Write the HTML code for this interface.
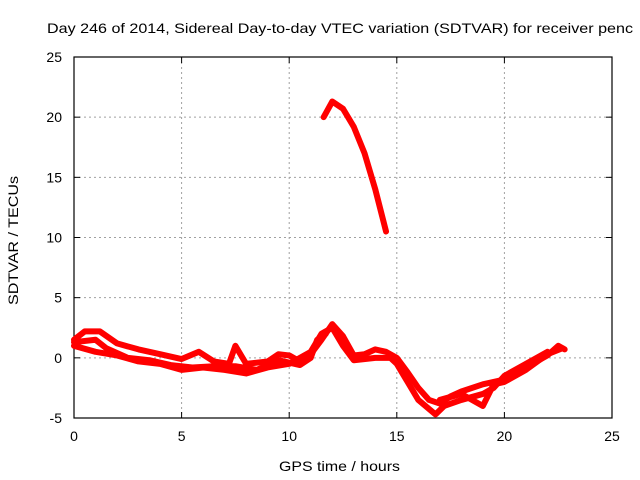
<!DOCTYPE html>
<html><head><meta charset="utf-8"><style>
body{margin:0;background:#fff}
svg{display:block;font-family:"Liberation Sans",sans-serif}
</style></head><body>
<svg id="chart" width="640" height="480" viewBox="0 0 640 480">
<text x="47" y="33" font-size="14" textLength="586" lengthAdjust="spacingAndGlyphs" fill="#000">Day 246 of 2014, Sidereal Day-to-day VTEC variation (SDTVAR) for receiver penc</text>
<g id="grid"></g>
<g id="axes"></g>
<g id="series"></g>
<text x="279" y="471" font-size="14" textLength="121" lengthAdjust="spacingAndGlyphs">GPS time / hours</text>
<text transform="translate(18,305) rotate(-90)" font-size="14" textLength="129" lengthAdjust="spacingAndGlyphs">SDTVAR / TECUs</text>
</svg>
<script>
const xTicks=[0,5,10,15,20,25];
const yTicks=[-5,0,5,10,15,20,25];
const trackA=[[0,1.5],[0.5,2.2],[1.2,2.2],[2,1.2],[3,0.7],[4,0.3],[5,-0.1],[5.8,0.5],[6.5,-0.3],[7.2,-0.5],[7.5,1.0],[8,-0.5],[9,-0.3],[9.5,0.3],[10,0.2],[10.5,-0.3],[11,0.3],[11.5,1.5],[12,2.8],[12.5,1.8],[13,0.2],[13.5,0.3],[14,0.7],[14.5,0.5],[15,0],[15.5,-1.2],[16,-2.5],[16.5,-3.5],[17,-3.8],[17.5,-3.2],[18,-2.8],[19,-2.2],[20,-1.8],[21,-0.8],[22,0.2],[22.5,1],[22.8,0.7]];
const trackB=[[0,1.0],[1,0.5],[2,0.2],[3,-0.3],[4,-0.5],[5,-1.0],[6,-0.8],[7,-1.0],[8,-1.3],[9,-0.8],[10,-0.5],[11,0.5],[11.5,2],[12,2.5],[12.5,1],[13,-0.2],[14,0],[14.7,0],[15,-0.5],[15.5,-2],[16,-3.5],[16.8,-4.7],[17.2,-4],[18,-3.5],[19,-3],[19.5,-2.5],[20,-1.5],[21,-0.5],[22,0.5]];
const trackC=[[0,1.3],[1,1.5],[1.5,0.8],[2.5,0.0],[3.5,-0.2],[4.5,-0.6],[5.5,-0.8],[6.5,-0.7],[7.5,-0.7],[8.5,-1.0],[9.5,-0.2],[10.5,-0.6],[11,0],[11.3,1.5],[11.7,2.0]];
const trackD=[[17,-3.5],[18,-3],[19,-4],[19.5,-2.2],[20,-2],[21,-1],[22,0.3],[22.7,0.8]];
const trackPeak=[[11.6,20],[12,21.3],[12.5,20.7],[13,19.2],[13.5,17],[14,14],[14.5,10.5]];
const X0=74,X1=612,Y0=418,Y1=57;
function sx(v){return X0+(v-0)/25*(X1-X0);}
function sy(v){return Y0-(v+5)/30*(Y0-Y1);}
const NS="http://www.w3.org/2000/svg";
function mk(t,a,p){const e=document.createElementNS(NS,t);for(const k in a)e.setAttribute(k,a[k]);p.appendChild(e);return e;}
const grid=document.getElementById('grid'),axes=document.getElementById('axes'),ser=document.getElementById('series');
xTicks.forEach(t=>{
 if(t>0&&t<25){const l=mk('line',{x1:sx(t),x2:sx(t),y1:Y1,y2:Y0,stroke:'#a0a0a0','stroke-dasharray':'2,3'},grid);
 
 }
 const tx=mk('text',{x:sx(t),y:Y0+23,'font-size':14,'text-anchor':'middle'},axes);tx.textContent=t;
 
 
 mk('line',{x1:sx(t),x2:sx(t),y1:Y0,y2:Y0-6,stroke:'#000'},axes);
 mk('line',{x1:sx(t),x2:sx(t),y1:Y1,y2:Y1+6,stroke:'#000'},axes);
});
yTicks.forEach(t=>{
 if(t>-5&&t<25){const l=mk('line',{x1:X0,x2:X1,y1:sy(t),y2:sy(t),stroke:'#a0a0a0','stroke-dasharray':'2,3'},grid);
 
 }
 const tx=mk('text',{x:X0-12,y:sy(t)+5,'font-size':14,'text-anchor':'end'},axes);tx.textContent=t;
 
 
 mk('line',{x1:X0,x2:X0+6,y1:sy(t),y2:sy(t),stroke:'#000'},axes);
 mk('line',{x1:X1,x2:X1-6,y1:sy(t),y2:sy(t),stroke:'#000'},axes);
});
mk('rect',{x:X0,y:Y1,width:X1-X0,height:Y0-Y1,fill:'none',stroke:'#000','stroke-width':1.2},axes);
[trackA,trackB,trackC,trackD,trackPeak].forEach((tr,i)=>{
 const p=mk('polyline',{points:tr.map(d=>sx(d[0])+','+sy(d[1])).join(' '),fill:'none',stroke:'#ff0000','stroke-width':i==4?6:6,'stroke-linejoin':'round','stroke-linecap':'round'},ser);
 
 
});
</script>
</body></html>
